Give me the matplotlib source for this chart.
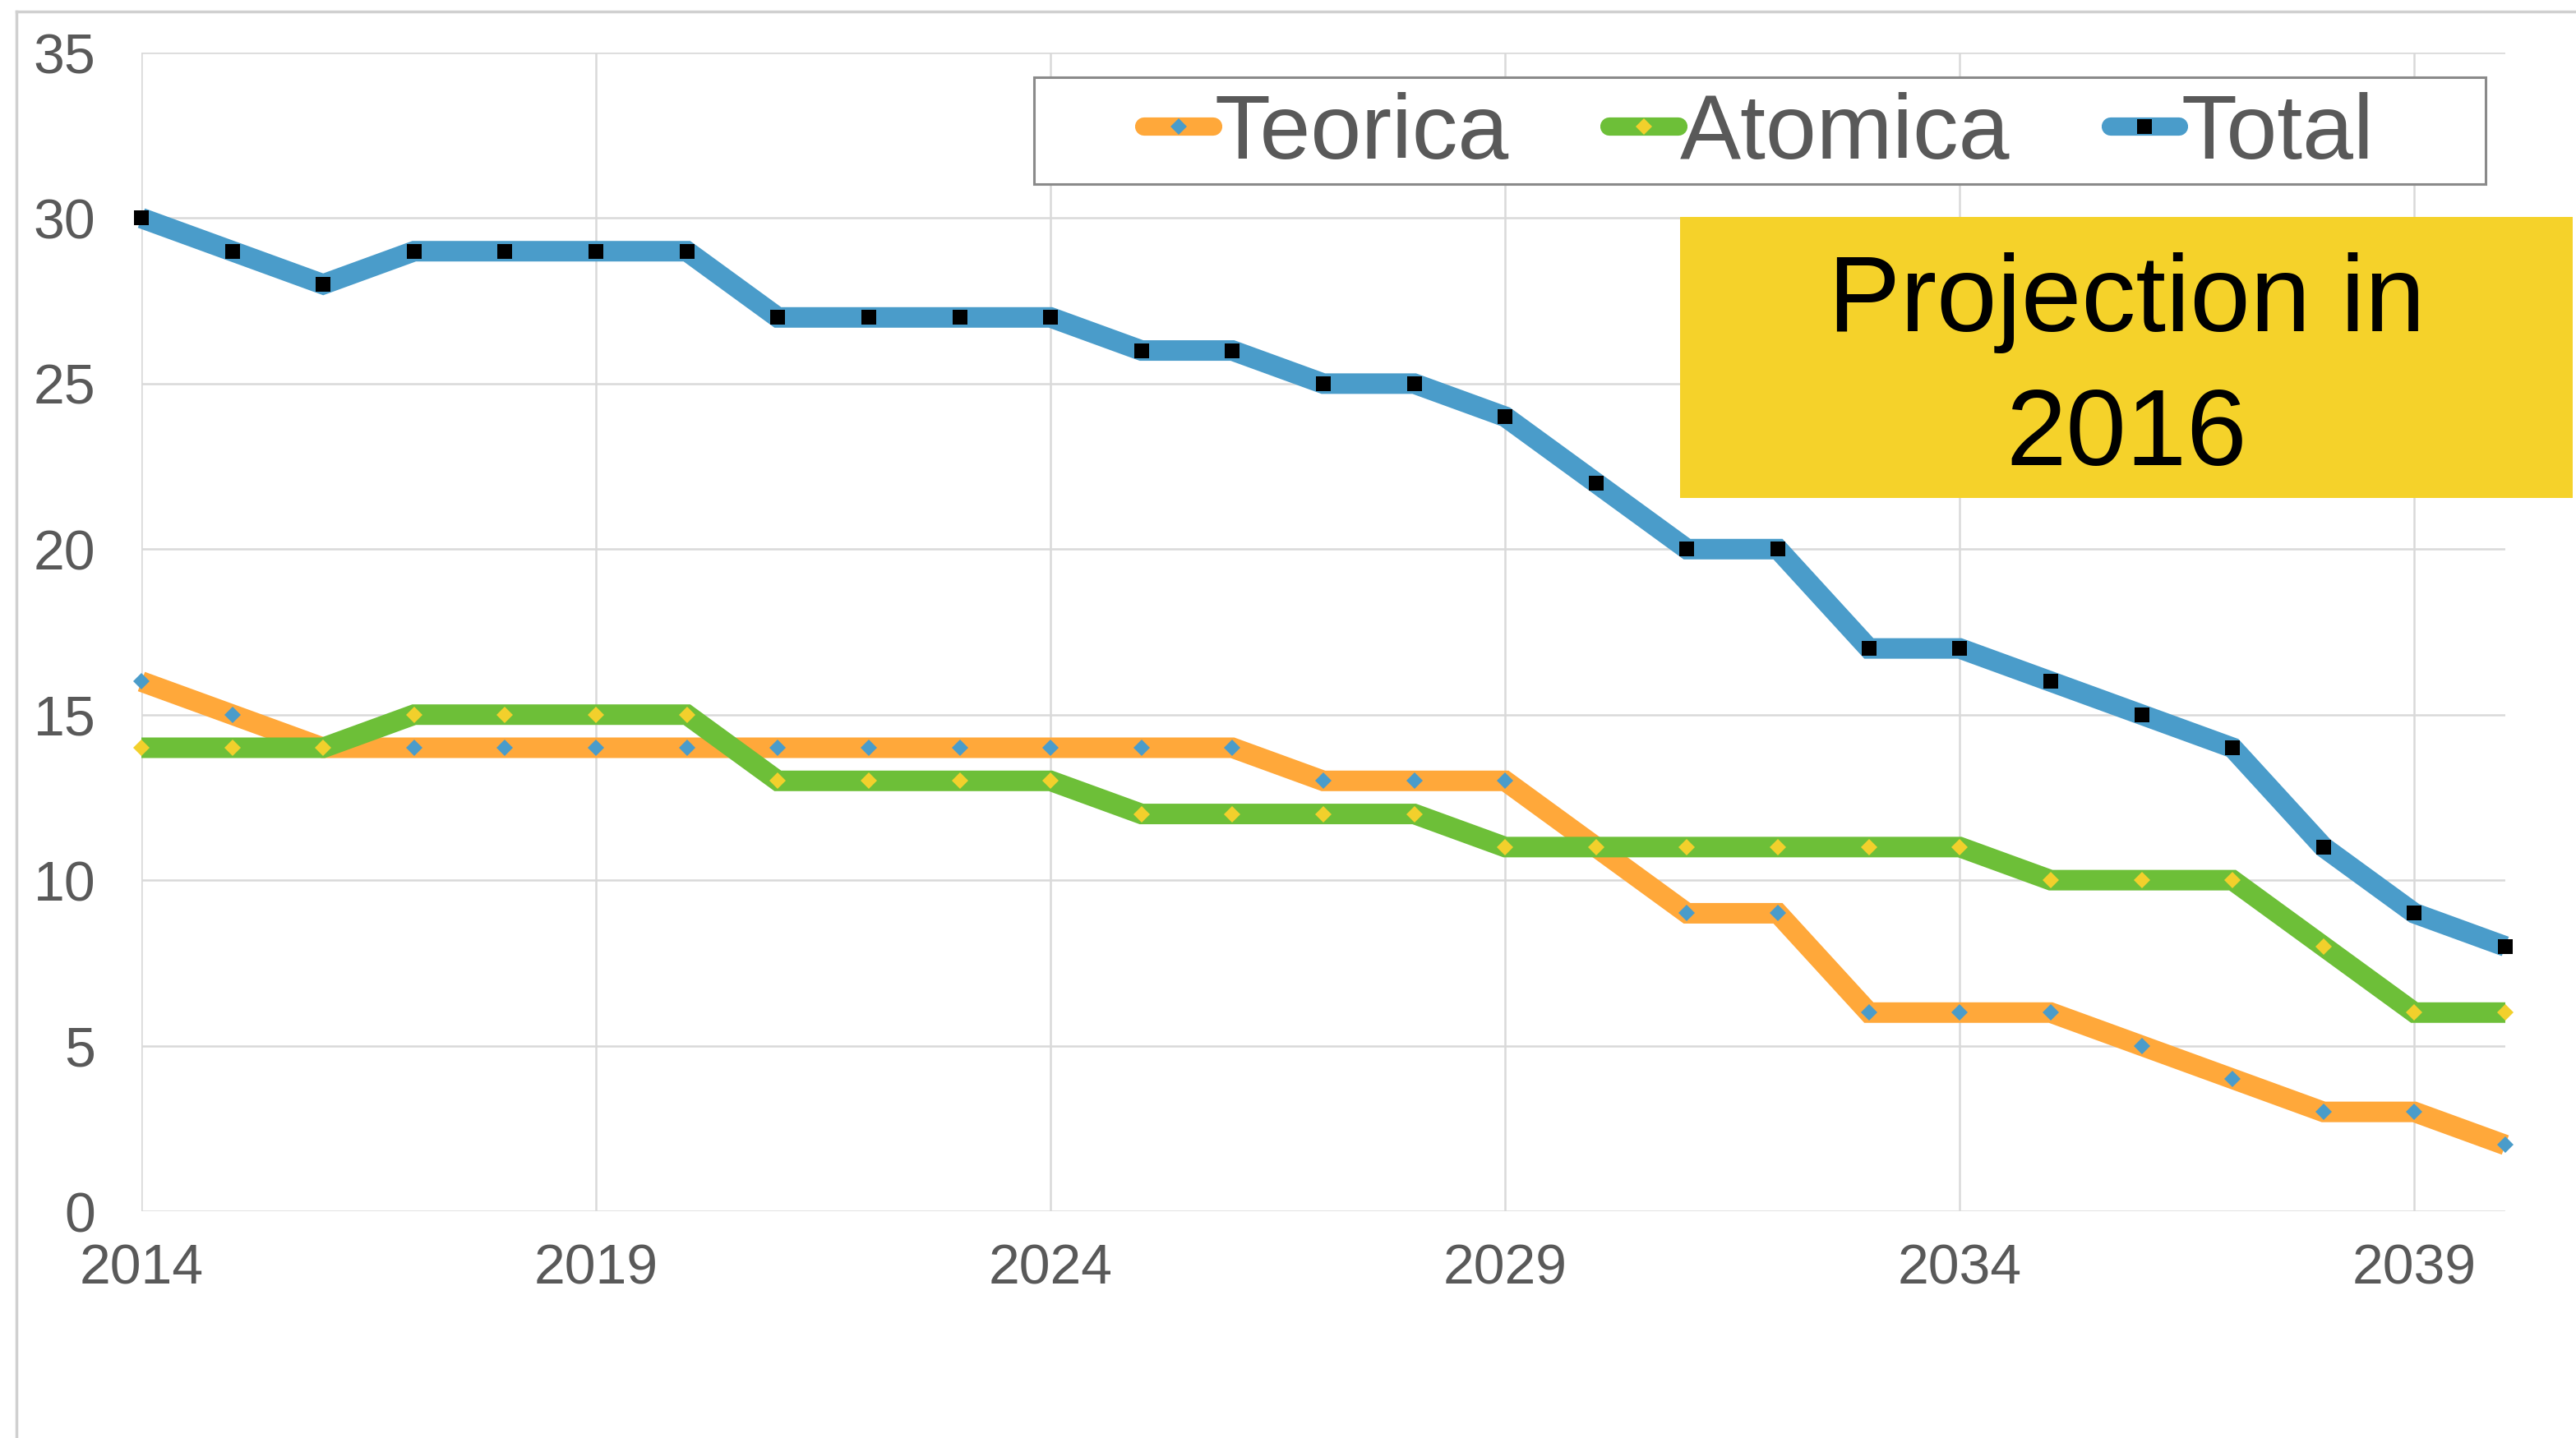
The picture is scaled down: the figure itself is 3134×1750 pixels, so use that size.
import matplotlib
matplotlib.use("Agg")
import matplotlib.pyplot as plt
from matplotlib.patches import Rectangle
from matplotlib.lines import Line2D

plt.rcParams['font.family'] = ['Liberation Sans', 'DejaVu Sans']

years = list(range(2014, 2041))
teorica = [16, 15, 14, 14, 14, 14, 14, 14, 14, 14, 14, 14, 14, 13, 13, 13, 11, 9, 9, 6, 6, 6, 5, 4, 3, 3, 2]
atomica = [14, 14, 14, 15, 15, 15, 15, 13, 13, 13, 13, 12, 12, 12, 12, 11, 11, 11, 11, 11, 11, 10, 10, 10, 8, 6, 6]
total = [30, 29, 28, 29, 29, 29, 29, 27, 27, 27, 27, 26, 26, 25, 25, 24, 22, 20, 20, 17, 17, 16, 15, 14, 11, 9, 8]
series_names = ["Teorica", "Atomica", "Total"]
xticks = [2014, 2019, 2024, 2029, 2034, 2039]
yticks = [0, 5, 10, 15, 20, 25, 30, 35]
note_text = "Projection in\n2016"

W, H = 3134, 1750
fig = plt.figure(figsize=(W / 100, H / 100), dpi=100)
fig.patch.set_facecolor("white")

ax = fig.add_axes([172 / W, 1 - 1474 / H, (3048 - 172) / W, (1474 - 64) / H])

line_colors = ["#FFA83A", "#6DBF38", "#4A9CCA"]
marker_colors = ["#4A9CCA", "#F2D02C", "#000000"]
markers = ["D", "D", "s"]
msizes = [10, 10, 12.5]
data = [teorica, atomica, total]

handles = []
for i, (vals, name) in enumerate(zip(data, series_names)):
    h, = ax.plot(years, vals, color=line_colors[i], lw=18, marker=markers[i],
                 markersize=msizes[i], markerfacecolor=marker_colors[i],
                 markeredgewidth=0, solid_joinstyle="miter", solid_capstyle="butt",
                 label=name, zorder=3 + i, clip_on=False)
    handles.append(h)

ax.set_xlim(2014, 2040)
ax.set_ylim(0, 35)
ax.set_xticks(xticks)
ax.set_yticks(yticks)
ax.grid(True, color="#D9D9D9", lw=1.8)
ax.set_axisbelow(True)
for s in ax.spines.values():
    s.set_visible(False)
ax.tick_params(axis="both", length=0, labelsize=49, labelcolor="#595959")
ax.tick_params(axis="y", pad=40)
ax.tick_params(axis="x", pad=28)

# outer frame lines
fig.add_artist(Line2D([20 / W, 1.0], [1 - 14 / H, 1 - 14 / H], transform=fig.transFigure,
                      color="#D0D0D0", lw=2.5))
fig.add_artist(Line2D([20 / W, 20 / W], [0, 1 - 14 / H], transform=fig.transFigure,
                      color="#D0D0D0", lw=2.5))

# legend frame
fig.add_artist(Rectangle((1258 / W, 1 - 224 / H), (3024 - 1258) / W, (224 - 94) / H,
                         transform=fig.transFigure, facecolor="white", edgecolor="#8A8A8A",
                         lw=2.2, zorder=10))
leg = fig.legend(handles=handles, labels=series_names, loc="center",
                 bbox_to_anchor=(2140 / W, 1 - 164 / H), ncol=3, frameon=False,
                 fontsize=80, handlelength=0.75, handletextpad=0.02, columnspacing=1.1,
                 numpoints=1, borderpad=0)
leg.set_zorder(11)
for t in leg.get_texts():
    t.set_color("#595959")
for lh in leg.legend_handles:
    lh.set_solid_capstyle("round")
    lh.set_linewidth(16)

# yellow note box
fig.add_artist(Rectangle((2044 / W, 1 - 606 / H), (3130 - 2044) / W, (606 - 264) / H,
                         transform=fig.transFigure, facecolor="#F5D22A", edgecolor="none",
                         zorder=12))
fig.text(2587 / W, 1 - 450 / H, note_text, ha="center", va="center", fontsize=95,
         color="black", linespacing=1.42, zorder=13)

fig.savefig("out.png", dpi=100)
